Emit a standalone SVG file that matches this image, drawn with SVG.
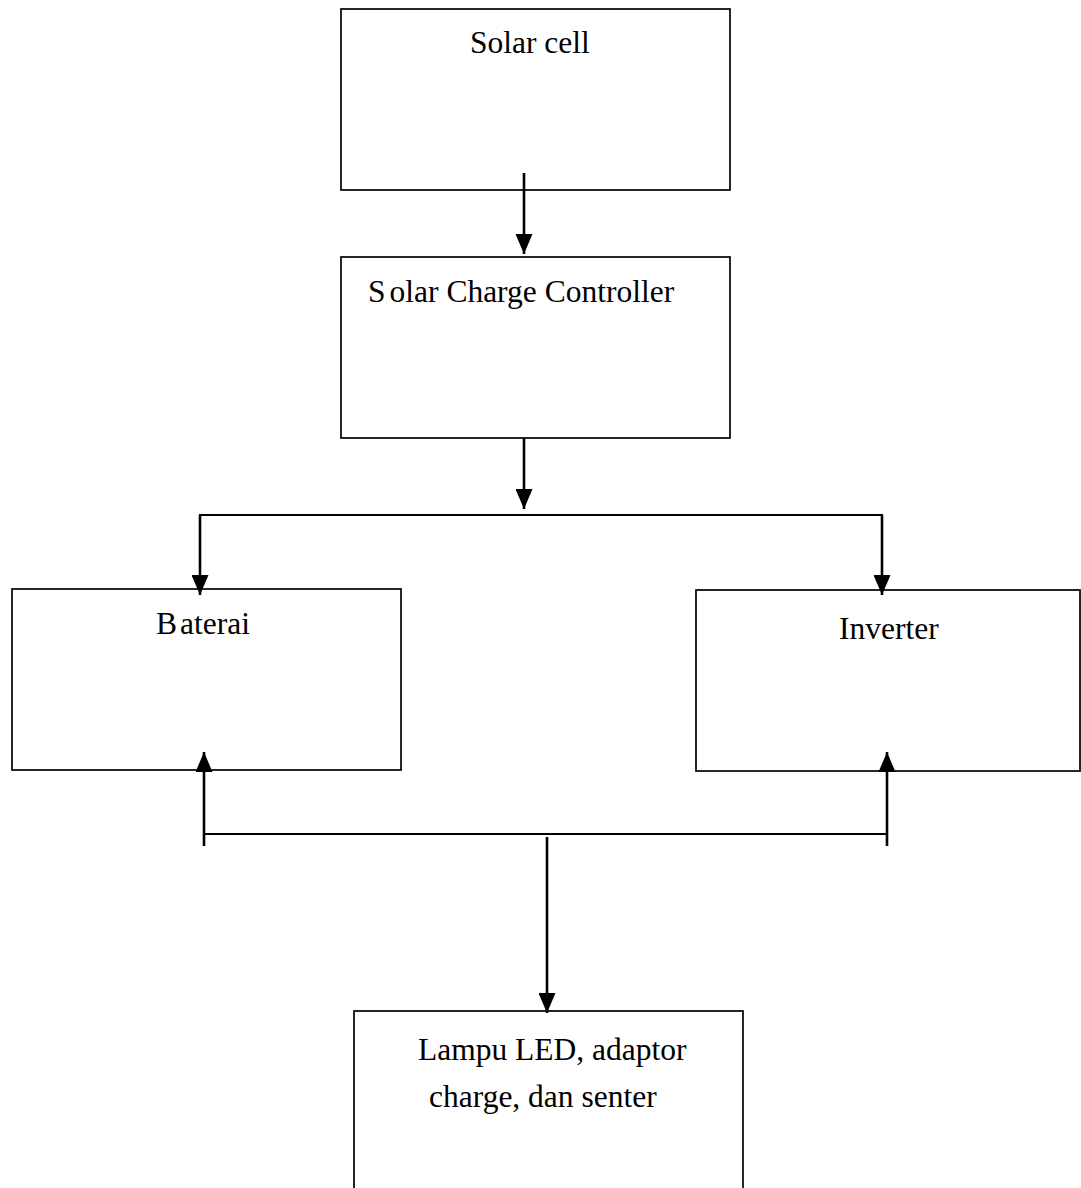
<svg xmlns="http://www.w3.org/2000/svg" width="1081" height="1188" viewBox="0 0 1081 1188">
<style>
.box{fill:#fff;stroke:#000;stroke-width:1.7}
.lbl{font-family:"Liberation Serif","Times New Roman",serif;font-size:31.5px;fill:#000}
.con{fill:none;stroke:#000;stroke-width:2.6}
.ln{fill:none;stroke:#000;stroke-width:2}
</style>
<defs>
<marker id="ah" markerUnits="userSpaceOnUse" markerWidth="20" markerHeight="17" refX="20" refY="8.5" orient="auto">
<path d="M0,0 L20,8.5 L0,17 z" fill="#000"/>
</marker>
</defs>
<rect width="1081" height="1188" fill="#fff"/>
<g id="solar-cell">
<rect class="box" x="341" y="9" width="389" height="181"/>
<text class="lbl" x="470" y="53">Solar cell</text>
</g>
<g id="scc">
<rect class="box" x="341" y="257" width="389" height="181"/>
<text class="lbl" x="368" y="302">S<tspan dx="4">olar Charge Controller</tspan></text>
</g>
<g id="baterai">
<rect class="box" x="12" y="589" width="389" height="181"/>
<text class="lbl" x="156" y="634">B<tspan dx="3">aterai</tspan></text>
</g>
<g id="inverter">
<rect class="box" x="696" y="590" width="384" height="181"/>
<text class="lbl" x="839" y="639">Inverter</text>
</g>
<g id="beban">
<rect class="box" x="354" y="1011" width="389" height="190"/>
<text class="lbl" x="418" y="1060">Lampu LED, adaptor</text>
<text class="lbl" x="429" y="1107">charge, dan senter</text>
</g>
<g id="connectors">
<line class="con" x1="524" y1="173" x2="524" y2="254" marker-end="url(#ah)"/>
<line class="con" x1="524" y1="438" x2="524" y2="509" marker-end="url(#ah)"/>
<polyline class="ln" points="200,580 200,515 882,515 882,580"/>
<line class="con" x1="200" y1="515" x2="200" y2="595" marker-end="url(#ah)"/>
<line class="con" x1="882" y1="515" x2="882" y2="595" marker-end="url(#ah)"/>
<line class="ln" x1="204" y1="834" x2="887" y2="834"/>
<line class="con" x1="204" y1="846" x2="204" y2="752" marker-end="url(#ah)"/>
<line class="con" x1="887" y1="846" x2="887" y2="752" marker-end="url(#ah)"/>
<line class="con" x1="547" y1="837" x2="547" y2="1013" marker-end="url(#ah)"/>
</g>
</svg>
